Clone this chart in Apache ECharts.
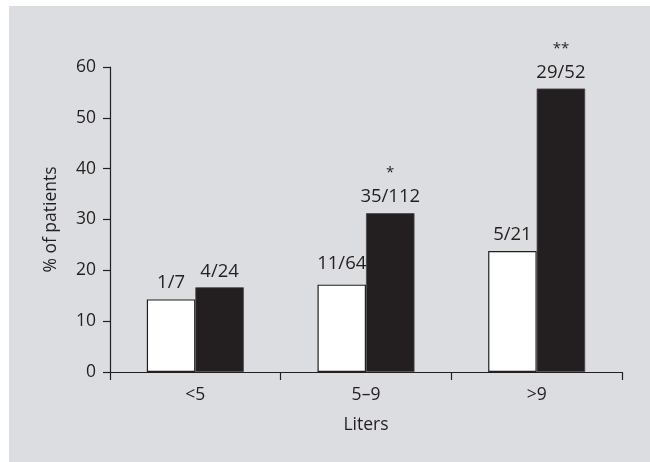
<!DOCTYPE html>
<html>
<head>
<meta charset="utf-8">
<script src="https://cdn.jsdelivr.net/npm/echarts@6/dist/echarts.min.js"></script>
<style>
  html, body { margin: 0; padding: 0; background: #ffffff; }
  #panel { position: absolute; left: 9px; top: 6px; width: 641px; height: 456px; background: #dcdde0; }
  #chart { position: absolute; left: 0; top: 0; width: 650px; height: 462px; }
</style>
</head>
<body>
<div id="panel"></div>
<div id="chart"></div>
<script>
// Fluid volume groups (liters)
const categories = ['<5', '5–9', '>9'];
// Open bars: patients with the outcome / patients in group
const groupAPositive = [1, 11, 5];
const groupATotal = [7, 64, 21];
// Filled bars: patients with the outcome / patients in group
const groupBPositive = [4, 35, 29];
const groupBTotal = [24, 112, 52];
// Significance markers above the filled bars
const groupBSignificance = ['', '*', '**'];
// Y-axis range
const yMin = 0, yMax = 60, yStep = 10;

const ink = '#231f20';
const font = '"Open Sans", "Noto Sans", sans-serif';

const pct = (n, d) => n / d * 100;
const groupAValues = groupAPositive.map((n, i) => pct(n, groupATotal[i]));
const groupBValues = groupBPositive.map((n, i) => pct(n, groupBTotal[i]));

const chart = echarts.init(document.getElementById('chart'), null, { renderer: 'canvas' });

chart.setOption({
  backgroundColor: 'transparent',
  animation: false,
  textStyle: { fontFamily: font, color: ink },
  grid: { left: 110, right: 28, top: 67, bottom: 90 },
  xAxis: {
    type: 'category',
    data: categories,
    name: 'Liters',
    nameLocation: 'middle',
    nameGap: 44,
    nameTextStyle: { fontSize: 17.5, color: ink, fontFamily: font },
    axisLine: { lineStyle: { color: ink, width: 1.2 } },
    axisTick: { show: true, length: 8, inside: false, interval: 0, lineStyle: { color: ink, width: 1.2 } },
    axisLabel: { fontSize: 17.5, color: ink, margin: 14, fontFamily: font },
    splitLine: { show: false }
  },
  yAxis: {
    type: 'value',
    min: yMin,
    max: yMax,
    interval: yStep,
    name: '% of patients',
    nameLocation: 'middle',
    nameRotate: 90,
    nameGap: 50,
    nameTextStyle: { fontSize: 17.5, color: ink, fontFamily: font },
    axisLine: { show: true, lineStyle: { color: ink, width: 1.2 } },
    axisTick: { show: true, length: 7, lineStyle: { color: ink, width: 1.2 } },
    axisLabel: { fontSize: 17.5, color: ink, margin: 14, fontFamily: font },
    splitLine: { show: false }
  },
  series: [
    {
      type: 'bar',
      data: groupAValues.map((v, i) => i === 1 ? { value: v, label: { distance: 11 } } : v),
      barWidth: 48.5,
      barGap: '0%',
      itemStyle: { color: '#ffffff', borderColor: ink, borderWidth: 1.2 },
      label: {
        show: true,
        position: 'top',
        distance: 7,
        fontSize: 18.5,
        color: ink,
        fontFamily: font,
        formatter: p => groupAPositive[p.dataIndex] + '/' + groupATotal[p.dataIndex]
      }
    },
    {
      type: 'bar',
      data: groupBValues,
      barWidth: 48.5,
      barGap: '0%',
      itemStyle: { color: ink, borderColor: '#4a4748', borderWidth: 0.8 },
      label: {
        show: true,
        position: 'top',
        distance: 5,
        color: ink,
        fontFamily: font,
        formatter: p => {
          const i = p.dataIndex;
          const frac = '{v|' + groupBPositive[i] + '/' + groupBTotal[i] + '}';
          return groupBSignificance[i] ? '{s|' + groupBSignificance[i] + '}\n' + frac : frac;
        },
        rich: {
          v: { fontSize: 18.5, lineHeight: 22, color: ink, fontFamily: font },
          s: { fontSize: 15, lineHeight: 26, color: ink, fontFamily: font }
        }
      }
    }
  ]
});
</script>
</body>
</html>
